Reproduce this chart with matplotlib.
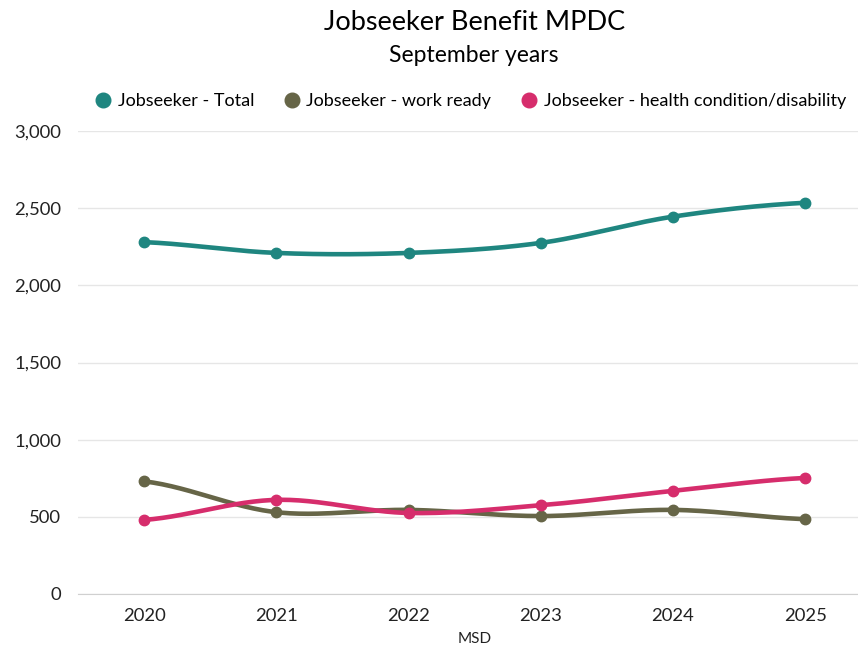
import numpy as np
import matplotlib.pyplot as plt

years = [2020, 2021, 2022, 2023, 2024, 2025]
total = [2280, 2210, 2210, 2275, 2445, 2535]
work_ready = [730, 530, 545, 505, 545, 485]
health = [480, 610, 525, 575, 668, 752]

labels = ["Jobseeker - Total", "Jobseeker - work ready",
          "Jobseeker - health condition/disability"]
colors = ["#1f8680", "#666547", "#d62d6c"]

plt.rcParams['font.family'] = ['Lato', 'DejaVu Sans']


def smooth(x, y, n=30):
    # catmull-rom curve through the points, for drawing only
    x = np.asarray(x, float)
    y = np.asarray(y, float)
    px = np.concatenate([[2 * x[0] - x[1]], x, [2 * x[-1] - x[-2]]])
    py = np.concatenate([[y[0]], y, [y[-1]]])
    xs, ys = [], []
    t = np.linspace(0, 1, n)
    for i in range(1, len(px) - 2):
        for p, out in ((px, xs), (py, ys)):
            p0, p1, p2, p3 = p[i - 1], p[i], p[i + 1], p[i + 2]
            m1 = (p2 - p0) / 2
            m2 = (p3 - p1) / 2
            h00 = 2 * t**3 - 3 * t**2 + 1
            h10 = t**3 - 2 * t**2 + t
            h01 = -2 * t**3 + 3 * t**2
            h11 = t**3 - t**2
            out.extend(h00 * p1 + h10 * m1 + h01 * p2 + h11 * m2)
    return xs, ys


fig = plt.figure(figsize=(8.58, 6.46), dpi=100)
ax = fig.add_axes([78 / 858, 52 / 646, 780 / 858, 463 / 646])

for vals, lab, c in zip([total, work_ready, health], labels, colors):
    sx, sy = smooth(years, vals)
    ax.plot(sx, sy, color=c, lw=3.3, solid_capstyle='round')
    ax.plot(years, vals, 'o', color=c, ms=7.5, label=lab)

ax.set_ylim(0, 3000)
ax.set_xlim(2019.5, 2025.4)
ax.set_yticks(range(0, 3001, 500))
ax.set_yticklabels([f"{v:,}" for v in range(0, 3001, 500)])
ax.set_xticks(years)
ax.tick_params(length=0, labelsize=13.3, colors='#222222')
ax.tick_params(axis='x', pad=10)
ax.tick_params(axis='y', pad=12)
ax.grid(axis='y', color='#e6e6e6', lw=1)
ax.set_axisbelow(True)
for s in ['top', 'right', 'left']:
    ax.spines[s].set_visible(False)
ax.spines['bottom'].set_color('#d0d0d0')

fig.text(475 / 858, 1 - 639 / 646, "MSD", ha='center', va='center',
         fontsize=11, color='#222222')
fig.text(475 / 858, 1 - 22 / 646, "Jobseeker Benefit MPDC", ha='center',
         va='center', fontsize=19.5)
fig.text(474 / 858, 1 - 56 / 646, "September years", ha='center',
         va='center', fontsize=16.5)
fig.legend(loc='center', bbox_to_anchor=(470 / 858, 1 - 101 / 646), ncol=3,
           frameon=False, fontsize=13, handletextpad=0.3, columnspacing=1.6,
           markerscale=1.4, handlelength=1.0)

fig.savefig("out.png", dpi=100)
